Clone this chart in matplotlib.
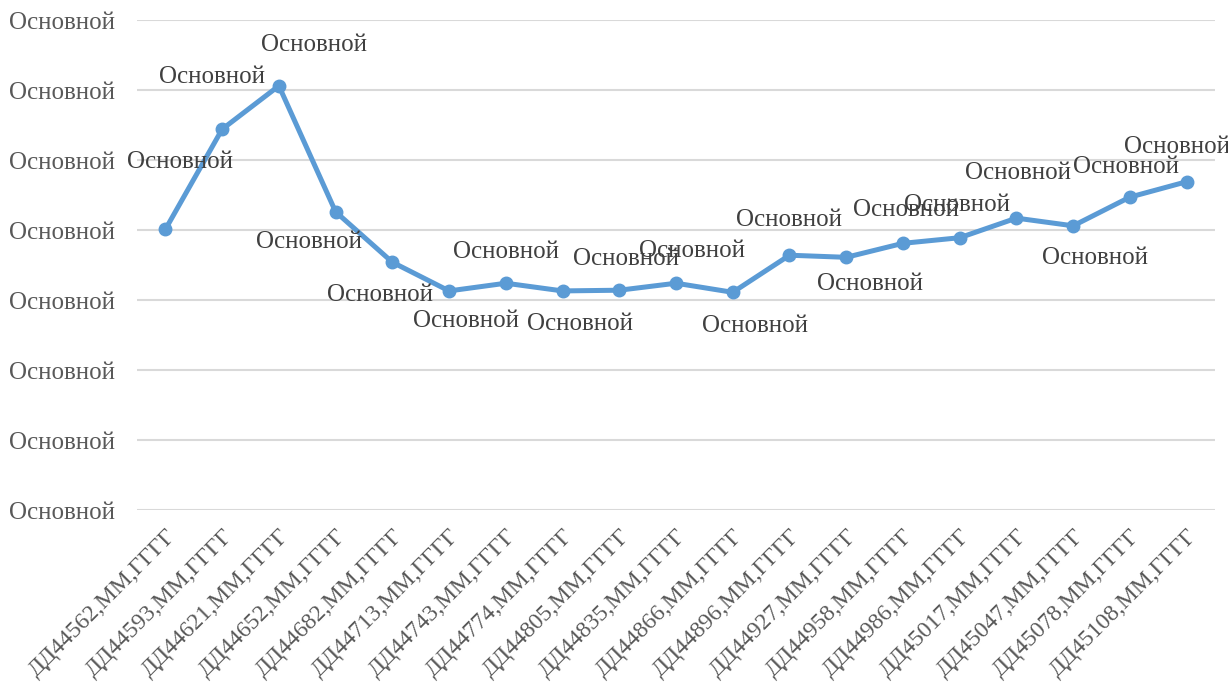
import numpy as np
import matplotlib.pyplot as plt

# ------------------ Datos ------------------
categorias = ["ДД44562,ММ,ГГГГ", "ДД44593,ММ,ГГГГ", "ДД44621,ММ,ГГГГ",
              "ДД44652,ММ,ГГГГ", "ДД44682,ММ,ГГГГ", "ДД44713,ММ,ГГГГ",
              "ДД44743,ММ,ГГГГ", "ДД44774,ММ,ГГГГ", "ДД44805,ММ,ГГГГ",
              "ДД44835,ММ,ГГГГ", "ДД44866,ММ,ГГГГ", "ДД44896,ММ,ГГГГ",
              "ДД44927,ММ,ГГГГ", "ДД44958,ММ,ГГГГ", "ДД44986,ММ,ГГГГ",
              "ДД45017,ММ,ГГГГ", "ДД45047,ММ,ГГГГ", "ДД45078,ММ,ГГГГ",
              "ДД45108,ММ,ГГГГ"]
valores = [4.01, 5.44, 6.06, 4.26, 3.54, 3.13, 3.24, 3.13, 3.14, 3.24,
           3.11, 3.64, 3.61, 3.81, 3.89, 4.17, 4.06, 4.47, 4.69]
etiqueta = "Основной"
ticks_y = [0, 1, 2, 3, 4, 5, 6, 7]

# desplazamiento (px) de cada etiqueta de dato respecto a su punto
offsets = [(15, 67), (-10, 52), (35, 41), (-27, -30), (-12, -33), (17, -30),
           (0, 31), (17, -33), (7, 31), (16, 32), (22, -34), (0, 35),
           (24, -27), (3, 33), (-3, 33), (2, 45), (22, -32), (-4, 30),
           (-10, 35)]

plt.rcParams['font.family'] = ['Liberation Serif', 'DejaVu Serif']

fig = plt.figure(figsize=(12.28, 6.88), dpi=100)
ax = fig.add_axes([0.1116, 0.2587, 0.8778, 0.7122])

x = np.arange(len(valores))
ax.plot(x, valores, color='#5b9bd5', linewidth=3.6, marker='o',
        markersize=9, solid_capstyle='round', zorder=3)

for xi, yi, (dx, dy) in zip(x, valores, offsets):
    ax.annotate(etiqueta, (xi, yi), xytext=(dx, dy), textcoords='offset pixels',
                ha='center', va='center', fontsize=18, color='#404040')

ax.set_xlim(-0.5, len(valores) - 0.5)
ax.set_ylim(ticks_y[0], ticks_y[-1])
ax.set_yticks(ticks_y)
ax.set_yticklabels([etiqueta] * len(ticks_y), fontsize=18, color='#595959')
ax.set_xticks(x)
ax.set_xticklabels(categorias, rotation=45, ha='right', va='top',
                   rotation_mode='anchor', fontsize=17, color='#595959')
ax.tick_params(axis='both', length=0)
ax.tick_params(axis='y', pad=16)
ax.tick_params(axis='x', pad=11)

ax.grid(axis='y', color='#d9d9d9', linewidth=1.5)
ax.set_axisbelow(True)
for s in ax.spines.values():
    s.set_visible(False)

fig.savefig('out.png', dpi=100)
